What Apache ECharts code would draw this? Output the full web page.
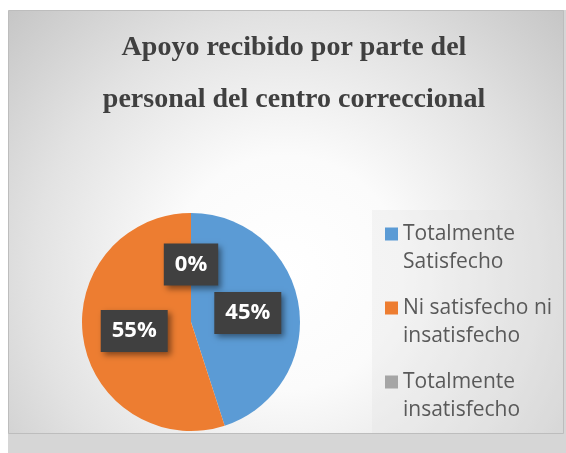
<!DOCTYPE html>
<html>
<head>
<meta charset="utf-8">
<script src="https://cdn.jsdelivr.net/npm/echarts@6/dist/echarts.min.js"></script>
<style>
html,body{margin:0;padding:0;background:#fff;}
#c{width:566px;height:453px;}
</style>
</head>
<body>
<div id="c"></div>
<script>
const titleLines = ['Apoyo recibido por parte del', 'personal del centro correccional'];
const categories = ['Totalmente Satisfecho', 'Ni satisfecho ni insatisfecho', 'Totalmente insatisfecho'];
const legendLabels = ['Totalmente\nSatisfecho', 'Ni satisfecho ni\ninsatisfecho', 'Totalmente\ninsatisfecho'];
const values = [45, 55, 0];
const colors = ['#5B9BD5', '#ED7D31', '#A5A5A5'];

const chart = echarts.init(document.getElementById('c'), null, {renderer: 'canvas'});
const data = categories.map((c, i) => ({name: c, value: values[i], itemStyle: {color: colors[i]}}));
const legendMap = {};
// a leading blank line keeps the first text line level with the legend square
categories.forEach((c, i) => legendMap[c] = '\n' + legendLabels[i]);

chart.setOption({
  backgroundColor: '#ffffff',
  animation: false,
  graphic: [
    {type: 'rect', z: -10, shape: {x: 8, y: 433, width: 558, height: 20}, style: {fill: '#d6d6d6'}},
    {type: 'rect', z: -10, shape: {x: 563, y: 10, width: 3, height: 443}, style: {fill: '#d6d6d6'}},
    {type: 'rect', z: -9, shape: {x: 8.5, y: 10.5, width: 555, height: 423},
      style: {
        fill: {type: 'radial', x: 0.5, y: 0.62, r: 0.92,
          colorStops: [
            {offset: 0, color: '#ffffff'},
            {offset: 0.3, color: '#fbfbfb'},
            {offset: 0.65, color: '#e2e2e2'},
            {offset: 1, color: '#c4c4c4'}
          ]},
        stroke: '#bdbdbd', lineWidth: 1
      }},
    {type: 'rect', z: -8, shape: {x: 372, y: 210, width: 191, height: 223},
      style: {fill: 'rgba(225,225,225,0.3)'}}
  ],
  title: {
    text: titleLines.join('\n'),
    left: 294,
    top: 22,
    padding: 0,
    textAlign: 'center',
    textStyle: {
      fontFamily: 'Liberation Serif',
      fontWeight: 'bold',
      fontSize: 28,
      lineHeight: 52,
      color: '#404040'
    }
  },
  legend: {
    orient: 'vertical',
    left: 385,
    top: 192,
    padding: 0,
    itemWidth: 13,
    itemHeight: 13,
    itemGap: -10,
    icon: 'rect',
    data: categories,
    formatter: n => legendMap[n],
    selectedMode: false,
    textStyle: {
      fontFamily: 'Open Sans',
      fontSize: 21,
      lineHeight: 28,
      color: '#595959'
    }
  },
  series: [{
    type: 'pie',
    center: [191, 322],
    radius: 109,
    startAngle: 90,
    clockwise: true,
    data: data,
    label: {
      show: true,
      position: 'inside',
      formatter: '{d}%',
      fontFamily: 'Open Sans',
      fontWeight: 'bold',
      fontSize: 22,
      lineHeight: 24,
      color: '#ffffff',
      backgroundColor: '#404040',
      padding: [9, 11],
      shadowColor: 'rgba(0,0,0,0.45)',
      shadowBlur: 6,
      shadowOffsetX: 3,
      shadowOffsetY: 3
    },
    labelLine: {show: false},
    emphasis: {disabled: true}
  }]
});
</script>
</body>
</html>
